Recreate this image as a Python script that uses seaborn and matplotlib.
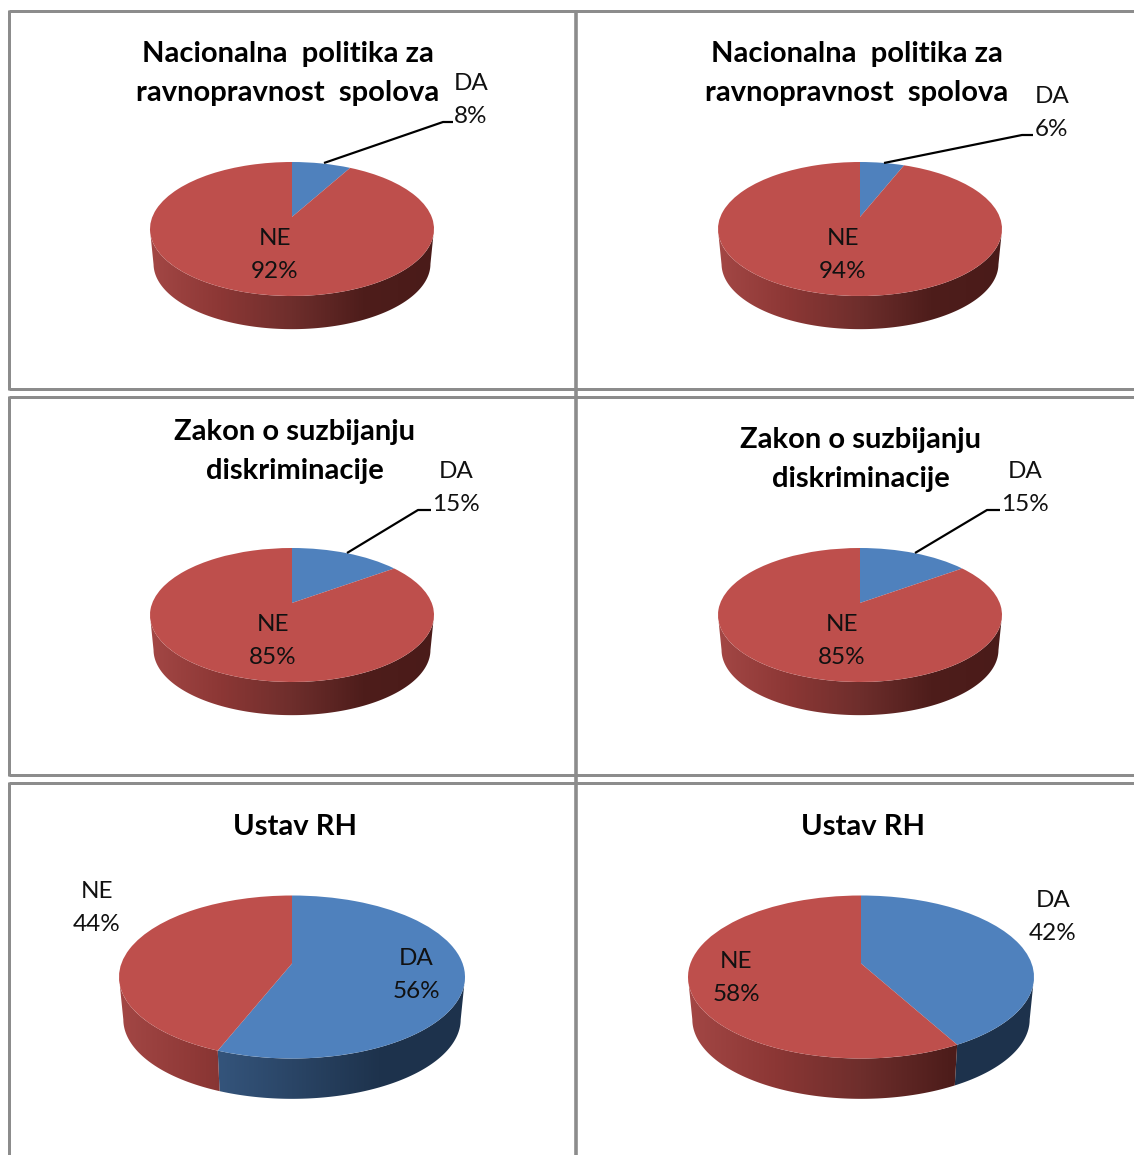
import numpy as np
import matplotlib
matplotlib.use("Agg")
import matplotlib.pyplot as plt
import matplotlib.transforms as mtransforms
from matplotlib.patches import Polygon
import seaborn as sns

sns.set_theme(style="white")
plt.rcParams['font.family'] = ['Lato', 'DejaVu Sans']

## Data ##

titles = ["Nacionalna  politika za\nravnopravnost  spolova",
          "Nacionalna  politika za\nravnopravnost  spolova",
          "Zakon o suzbijanju\ndiskriminacije",
          "Zakon o suzbijanju\ndiskriminacije",
          "Ustav RH",
          "Ustav RH"]
da_values = [8, 6, 15, 15, 56, 42]
ne_values = [92, 94, 85, 85, 44, 58]
slice_names = ["DA", "NE"]

## Layout, pixels of the picture ##

W, H = 1134, 1155
pie_cx = [292, 860, 292, 860, 292, 861]
pie_cy = [229, 229, 615, 615, 977, 977]
pie_rx = [142, 142, 142, 142, 173, 173]
pie_ry = [67, 67, 67, 67, 81.5, 81.5]
pie_tilt = [0.18, 0.18, 0.18, 0.18, 0.166, 0.166]
title_xy = [(288, 73.5), (857, 73.5), (295, 451.5), (861, 459.5), (295, 827), (863, 827)]
da_xy = [(471, 100), (1052, 113), (456, 488), (1025, 488), (416, 975), (1053, 917)]
ne_xy = [(275, 255), (843, 255), (273, 641), (842, 641), (97, 908), (736, 978)]
leaders = [[(324, 163), (443, 122), (453, 122)],
           [(884, 163), (1022, 135), (1033, 135)],
           [(347, 553), (418, 510), (431, 510)],
           [(915, 553), (987, 510), (1000, 510)],
           None, None]

top_colors = ["#4f81bd", "#be4f4c"]
wall_colors = [["#436a99", "#36577f", "#2a4566", "#1e334d", "#1d324c"],
               ["#a34745", "#8c3735", "#6e2e2c", "#4e1d1b", "#4a1b19"]]
frame_color = "#8c8c8c"
LIP = 0.975
DEPTH = 0.52


class Tilt(mtransforms.Transform):
    # perspective of the disc, keeps the rim on the unit circle and moves the centre up
    input_dims = 2
    output_dims = 2
    has_inverse = False

    def __init__(self, b):
        super().__init__()
        self.b = b

    def transform_non_affine(self, values):
        values = np.asarray(values, dtype=float)
        x, y = values[:, 0], values[:, 1]
        d = 1 + self.b * y
        return np.column_stack([x * np.sqrt(1 - self.b ** 2) / d, (y + self.b) / d])


fig = plt.figure(figsize=(W / 100, H / 100), dpi=100, facecolor="white")

## Pies ##

for i in range(6):
    cx, cy, rx, ry = pie_cx[i], pie_cy[i], pie_rx[i], pie_ry[i]
    x_pad, y_low, y_high = 1.02, -1.6, 1.02
    ax = fig.add_axes([(cx - x_pad * rx) / W,
                       1 - (cy - y_low * ry) / H,
                       2 * x_pad * rx / W,
                       (y_high - y_low) * ry / H])
    values = [da_values[i], ne_values[i]]
    tilt = Tilt(pie_tilt[i])

    wedges, _ = ax.pie(values, colors=top_colors, startangle=90, counterclock=False,
                       radius=1, wedgeprops={'linewidth': 0})
    for wedge in wedges:
        wedge.set_transform(tilt + ax.transData)
        wedge.set_zorder(5)

    # side wall of each slice
    bounds = np.concatenate([[0], np.cumsum(values)]) / sum(values) * 2 * np.pi
    for k in range(2):
        t = np.linspace(bounds[k], bounds[k + 1], 500)
        rim = tilt.transform_non_affine(np.column_stack([np.sin(t), np.cos(t)]))
        rim = rim[rim[:, 1] <= 0]
        if len(rim) < 2:
            continue
        low = rim * LIP - [0, DEPTH]
        wall = Polygon(np.vstack([rim, low[::-1]]), closed=True, transform=ax.transData,
                       facecolor="none", edgecolor="none")
        ax.add_patch(wall)
        cmap = sns.blend_palette(wall_colors[k], as_cmap=True)
        img = ax.imshow(np.linspace(0, 1, 256)[None, :], extent=(-1, 1, -1.6, 0.2),
                        aspect="auto", cmap=cmap, vmin=0, vmax=1, zorder=2)
        img.set_clip_path(wall)

    ax.set_xlim(-x_pad, x_pad)
    ax.set_ylim(y_low, y_high)
    ax.set_aspect("auto")
    ax.axis("off")

## Frames, texts and leader lines ##

over = fig.add_axes([0, 0, 1, 1], zorder=10)
over.set_xlim(0, W)
over.set_ylim(H, 0)
over.axis("off")
over.patch.set_alpha(0)

lw = 3 * 72 / 100
for y in [10.5, 389, 396.5, 775, 782.5]:
    over.plot([8.5, W], [y, y], color=frame_color, lw=lw, solid_capstyle="butt")
for y0, y1 in [(10, 390), (396, 776), (782, H)]:
    over.plot([8.5, 8.5], [y0, y1], color=frame_color, lw=lw, solid_capstyle="butt")
over.plot([575.5, 575.5], [10, H], color=frame_color, lw=3.6 * 72 / 100, solid_capstyle="butt")

for i in range(6):
    over.text(title_xy[i][0], title_xy[i][1], titles[i], ha="center", va="center",
              fontsize=21, fontweight="bold", color="black", linespacing=1.6)
    over.text(da_xy[i][0], da_xy[i][1], "{}\n{}%".format(slice_names[0], da_values[i]),
              ha="center", va="center", fontsize=17.5, color="#111111", linespacing=1.65)
    over.text(ne_xy[i][0], ne_xy[i][1], "{}\n{}%".format(slice_names[1], ne_values[i]),
              ha="center", va="center", fontsize=17.5, color="#111111", linespacing=1.65)
    if leaders[i] is not None:
        xs, ys = zip(*leaders[i])
        over.plot(xs, ys, color="black", lw=2.2 * 72 / 100, solid_capstyle="butt")

fig.savefig("out.png", dpi=100)
